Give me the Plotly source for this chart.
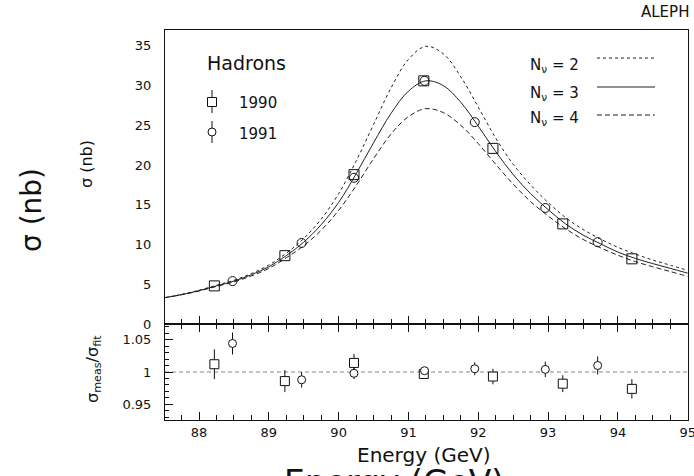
import plotly.graph_objects as go

# ---------------- data ----------------
energy_grid = [87.5, 87.75, 88.0, 88.25, 88.5, 88.75, 89.0, 89.25, 89.5, 89.75,
               90.0, 90.25, 90.5, 90.75, 91.0, 91.25, 91.5, 91.75, 92.0, 92.25,
               92.5, 92.75, 93.0, 93.25, 93.5, 93.75, 94.0, 94.25, 94.5, 94.75, 95.0]
xsec_nnu2 = [3.3, 3.72, 4.25, 4.87, 5.5, 6.35, 7.42, 8.9, 10.76, 13.2,
             16.4, 20.5, 25.1, 29.7, 33.3, 34.95, 34.0, 31.1, 27.3, 23.4,
             20.1, 17.5, 15.3, 13.4, 11.9, 10.7, 9.65, 8.8, 8.05, 7.4, 6.75]
xsec_nnu3 = [3.3, 3.7, 4.2, 4.8, 5.4, 6.2, 7.2, 8.6, 10.3, 12.5,
             15.3, 18.9, 22.8, 26.5, 29.3, 30.6, 30.0, 27.9, 24.9, 21.7,
             18.8, 16.4, 14.4, 12.6, 11.2, 10.1, 9.05, 8.25, 7.6, 7.0, 6.4]
xsec_nnu4 = [3.3, 3.68, 4.15, 4.73, 5.3, 6.05, 7.0, 8.33, 9.85, 11.8,
             14.3, 17.4, 20.8, 23.9, 26.1, 27.1, 26.6, 25.0, 22.7, 20.1,
             17.6, 15.4, 13.6, 12.0, 10.65, 9.6, 8.65, 7.85, 7.2, 6.6, 6.0]

e_1990 = [88.22, 89.23, 90.22, 91.22, 92.21, 93.21, 94.20]
xsec_1990 = [4.8, 8.6, 18.8, 30.6, 22.1, 12.6, 8.2]
ratio_1990 = [1.012, 0.986, 1.014, 0.997, 0.993, 0.982, 0.974]
ratio_err_1990 = [0.023, 0.017, 0.014, 0.005, 0.012, 0.013, 0.015]

e_1991 = [88.48, 89.47, 90.22, 91.23, 91.95, 92.96, 93.71]
xsec_1991 = [5.4, 10.2, 18.4, 30.6, 25.4, 14.6, 10.3]
ratio_1991 = [1.044, 0.988, 0.998, 1.002, 1.005, 1.004, 1.010]
ratio_err_1991 = [0.017, 0.012, 0.009, 0.005, 0.010, 0.012, 0.014]

x_tick_vals = [88, 89, 90, 91, 92, 93, 94, 95]
y_tick_vals = [0, 5, 10, 15, 20, 25, 30, 35]
ratio_tick_vals = [0.95, 1.0, 1.05]
ratio_tick_text = ["0.95", "1", "1.05"]

# ---------------- figure ----------------
FONT = "DejaVu Sans"
INK = "#111111"
W, H = 694, 476
ML, MR, MT, MB = 165, 6, 30, 56


def px(xp):
    return (xp - ML) / (W - ML - MR)


def py(yp):
    return (H - MB - yp) / (H - MT - MB)


fig = go.Figure()

curve_style = [
    (xsec_nnu2, "dot"),
    (xsec_nnu3, "solid"),
    (xsec_nnu4, "5px,3px"),
]
for ys, dash in curve_style:
    fig.add_trace(go.Scatter(
        x=energy_grid, y=ys, mode="lines", line_shape="spline",
        line=dict(color="#222222", width=1, dash=dash),
        xaxis="x", yaxis="y", showlegend=False, hoverinfo="skip"))

fig.add_trace(go.Scatter(
    x=e_1990, y=xsec_1990, mode="markers",
    marker=dict(symbol="square-open", size=10, color=INK, line=dict(width=1, color=INK)),
    xaxis="x", yaxis="y", showlegend=False))
fig.add_trace(go.Scatter(
    x=e_1991, y=xsec_1991, mode="markers",
    marker=dict(symbol="circle-open", size=9, color=INK, line=dict(width=1, color=INK)),
    xaxis="x", yaxis="y", showlegend=False))

fig.add_trace(go.Scatter(
    x=e_1990, y=ratio_1990, mode="markers",
    error_y=dict(type="data", array=ratio_err_1990, color=INK, thickness=1, width=0),
    marker=dict(symbol="square", size=9, color="white", line=dict(width=1, color=INK)),
    xaxis="x2", yaxis="y2", showlegend=False))
fig.add_trace(go.Scatter(
    x=e_1991, y=ratio_1991, mode="markers",
    error_y=dict(type="data", array=ratio_err_1991, color=INK, thickness=1, width=0),
    marker=dict(symbol="circle", size=8, color="white", line=dict(width=1, color=INK)),
    xaxis="x2", yaxis="y2", showlegend=False))

split = 96 / 390.0
xr = [87.513, 95.004]
tickfont = dict(family=FONT, size=13, color=INK)

fig.update_layout(
    width=W, height=H,
    margin=dict(l=ML, r=MR, t=MT, b=MB, pad=0, autoexpand=False),
    paper_bgcolor="white", plot_bgcolor="white",
    showlegend=False,
    xaxis=dict(domain=[0, 1], anchor="y", range=xr, showticklabels=False,
               automargin=False,
               tickmode="array", tickvals=x_tick_vals, ticks="inside", ticklen=8,
               tickcolor=INK, minor=dict(dtick=0.25, tick0=88, ticks="inside", ticklen=5, tickcolor=INK),
               showline=True, linecolor=INK, linewidth=1, mirror=True,
               showgrid=False, zeroline=False),
    yaxis=dict(domain=[split, 1], anchor="x", range=[0, 37], automargin=False,
               tickmode="array", tickvals=y_tick_vals, ticks="",
               tickfont=tickfont, ticklabelstandoff=10,
               showline=True, linecolor=INK, linewidth=1, mirror=True,
               showgrid=False, zeroline=False),
    xaxis2=dict(domain=[0, 1], anchor="y2", range=xr, matches="x", automargin=False,
                tickmode="array", tickvals=x_tick_vals, ticks="inside", ticklen=8,
                tickcolor=INK, tickfont=tickfont, ticklabelstandoff=0,
                ticklabeloverflow="allow",
                minor=dict(dtick=0.25, tick0=88, ticks="inside", ticklen=5, tickcolor=INK),
                showline=True, linecolor=INK, linewidth=1, mirror="ticks",
                showgrid=False, zeroline=False),
    yaxis2=dict(domain=[0, split], anchor="x2", range=[0.926, 1.074], automargin=False,
                tickmode="array", tickvals=ratio_tick_vals, ticktext=ratio_tick_text,
                ticks="inside", ticklen=8, tickcolor=INK, tickfont=tickfont,
                ticklabelstandoff=10,
                minor=dict(tick0=0.95, dtick=0.01, ticks="inside", ticklen=4, tickcolor=INK),
                showline=True, linecolor=INK, linewidth=1, mirror=True,
                showgrid=False, zeroline=False),
)

# reference line at ratio 1
fig.add_shape(type="line", xref="x2 domain", yref="y2", x0=0, x1=1, y0=1, y1=1,
              line=dict(color="#888888", width=1, dash="4px,3px"), layer="below")

ann = []


def text(t, x, y, size, xanchor="center", yanchor="middle", angle=0, color=INK):
    ann.append(dict(text=t, x=x, y=y, xref="paper", yref="paper", showarrow=False,
                    xanchor=xanchor, yanchor=yanchor, textangle=angle,
                    font=dict(family=FONT, size=size, color=color)))


text("ALEPH", px(691), py(12), 15, xanchor="right")
text("Hadrons", px(246), py(63), 19)
text("1990", px(237), py(103), 15, xanchor="left")
text("1991", px(237), py(134), 15, xanchor="left")
text("N<sub>ν</sub> = 2", px(528), py(65), 15, xanchor="left")
text("N<sub>ν</sub> = 3", px(528), py(93), 15, xanchor="left")
text("N<sub>ν</sub> = 4", px(528), py(119), 15, xanchor="left")
text("σ (nb)", px(31), py(210), 28, angle=-90)
text("σ (nb)", px(86), py(164), 16, angle=-90)
text("σ<sub>meas</sub>/σ<sub>fit</sub>", px(93), py(369), 16, angle=-90)
text("Energy (GeV)", px(394), py(461), 33, yanchor="top")
text("Energy (GeV)", px(423), py(455), 20)
fig.update_layout(annotations=ann)

# legend samples for the curves
for yl, dash in [(58, "dot"), (87, "solid"), (115, "5px,3px")]:
    fig.add_shape(type="line", xref="paper", yref="paper",
                  x0=px(597), x1=px(655), y0=py(yl), y1=py(yl),
                  line=dict(color="#222222", width=1, dash=dash))

# legend samples for the data
fig.add_shape(type="line", xref="paper", yref="paper", x0=px(212), x1=px(212),
              y0=py(90), y1=py(113), line=dict(color=INK, width=1))
fig.add_shape(type="rect", xref="paper", yref="paper", xsizemode="pixel", ysizemode="pixel",
              xanchor=px(212), yanchor=py(102), x0=-4.5, x1=4.5, y0=-4.5, y1=4.5,
              fillcolor="white", line=dict(color=INK, width=1))
fig.add_shape(type="line", xref="paper", yref="paper", x0=px(212), x1=px(212),
              y0=py(121), y1=py(143), line=dict(color=INK, width=1))
fig.add_shape(type="circle", xref="paper", yref="paper", xsizemode="pixel", ysizemode="pixel",
              xanchor=px(212), yanchor=py(132), x0=-4, x1=4, y0=-4, y1=4,
              fillcolor="white", line=dict(color=INK, width=1))

fig.write_html("out.html")
